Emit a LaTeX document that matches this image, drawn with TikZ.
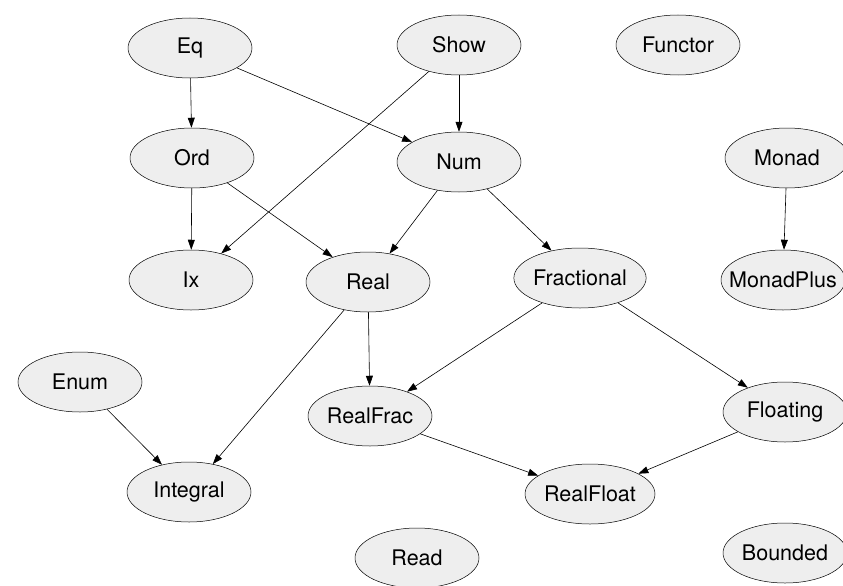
\documentclass[tikz,border=0pt]{standalone}
\usepackage{fontspec}
\setmainfont{TeX Gyre Heros}
\usepackage{tikz}
\usetikzlibrary{arrows.meta,shapes}
\tikzset{>={Triangle[length=10pt,width=7pt]}}
\definecolor{classfill}{HTML}{EEEEEE}
\tikzset{
  cls/.style={ellipse, draw, line width=0.5pt, fill=classfill, minimum width=124pt, minimum height=60pt, inner sep=0pt, font=\fontsize{21.5}{24}\selectfont},
  wide/.style={minimum width=130pt},
  inh/.style={->, line width=0.6pt}
}

\begin{document}
\begin{tikzpicture}[x=1pt, y=-1pt]
			\useasboundingbox (0, 0) rectangle (843, 586);
			\clip (0, 0) rectangle (843, 586);
			% classes
			\node [cls] (eq) at (190, 48) {Eq};
			\node [cls] (show) at (459, 45) {Show};
			\node [cls] (functor) at (678, 45) {Functor};
			\node [cls] (ord) at (192, 158) {Ord};
			\node [cls] (num) at (459, 162) {Num};
			\node [cls] (monad) at (787, 158) {Monad};
			\node [cls] (ix) at (191, 280) {Ix};
			\node [cls] (real) at (368, 282) {Real};
			\node [cls, wide] (fractional) at (580, 278) {Fractional};
			\node [cls, inner xsep=-17pt] (monadplus) at (783, 280) {MonadPlus};
			\node [cls] (enum) at (80, 382) {Enum};
			\node [cls] (realfrac) at (370, 416) {RealFrac};
			\node [cls] (floating) at (785, 412) {Floating};
			\node [cls] (integral) at (189, 492) {Integral};
			\node [cls, wide] (realfloat) at (590, 494) {RealFloat};
			\node [cls] (read) at (417, 558) {Read};
			\node [cls] (bounded) at (785, 553) {Bounded};
			% superclass arrows
			\draw [inh] (eq)--(ord);
			\draw [inh] (eq)--(num);
			\draw [inh] (show)--(num);
			\draw [inh] (show)--(ix);
			\draw [inh] (ord)--(ix);
			\draw [inh] (ord)--(real);
			\draw [inh] (num)--(real);
			\draw [inh] (num)--(fractional);
			\draw [inh] (monad)--(monadplus);
			\draw [inh] (real)--(realfrac);
			\draw [inh] (real)--(integral);
			\draw [inh] (fractional)--(realfrac);
			\draw [inh] (fractional)--(floating);
			\draw [inh] (enum)--(integral);
			\draw [inh] (realfrac)--(realfloat);
			\draw [inh] (floating)--(realfloat);
		\end{tikzpicture}
\end{document}
